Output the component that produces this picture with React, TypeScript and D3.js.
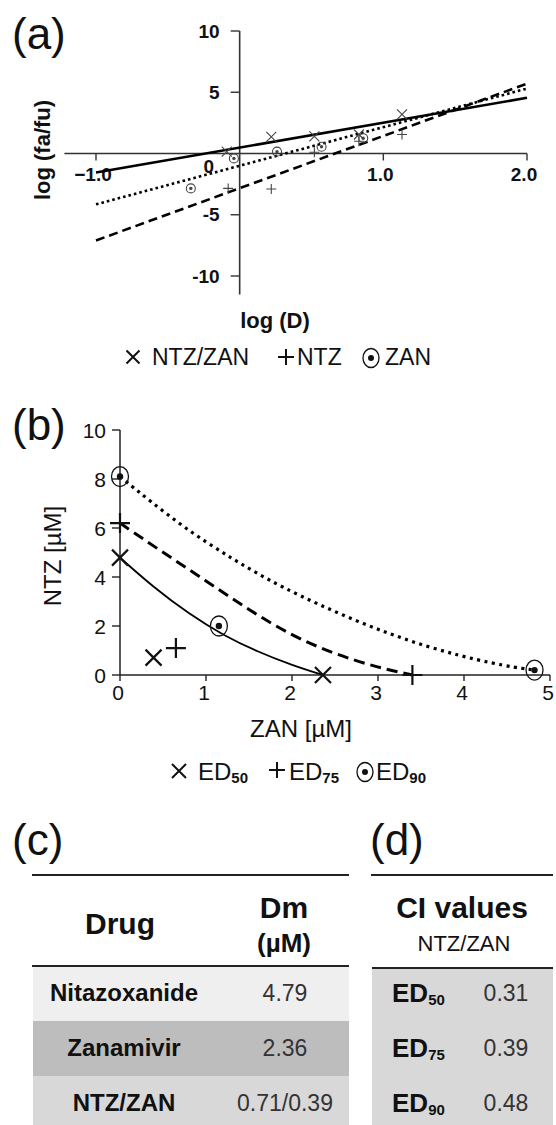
import React from "react";
import * as d3 from "d3";

const FONT = "'Liberation Sans', Arial, Helvetica, sans-serif";

// (a) median-effect plot: log(D) vs log(fa/fu)
const xTicksA = [-1, 1, 2];
const yTicksA = [10, 5, -5, -10];
const comboA = [[-0.09, 0.15], [0.22, 1.35], [0.52, 1.4], [0.83, 1.55], [1.13, 3.2]];
const ntzA = [[-0.08, -2.85], [0.22, -2.9], [0.52, 0.1], [0.83, 1.0], [1.13, 1.55]];
const zanA = [[-0.34, -2.85], [-0.04, -0.4], [0.26, 0.15], [0.57, 0.55], [0.86, 1.25]];
const comboFit = [[-1, -1.55], [2, 4.55]];
const ntzFit = [[-1, -7.1], [2, 5.7]];
const zanFit = [[-1, -4.15], [2, 5.3]];

// (b) isobologram: ZAN vs NTZ (uM)
const xTicksB = [0, 1, 2, 3, 4, 5];
const yTicksB = [0, 2, 4, 6, 8, 10];
const ed50Curve = [[0, 4.79], [0.4, 3.55], [0.8, 2.5], [1.2, 1.62], [1.6, 0.95], [2.0, 0.4], [2.36, 0]];
const ed75Curve = [[0, 6.2], [0.5, 5.0], [1.0, 3.85], [1.5, 2.65], [2.0, 1.6], [2.5, 0.85], [3.0, 0.3], [3.4, 0]];
const ed90Curve = [[0, 8.1], [0.7, 6.1], [1.3, 4.75], [1.86, 3.6], [2.73, 2.2], [3.55, 1.14], [4.37, 0.42], [4.82, 0.2]];
const ed50Pts = [[0, 4.79], [2.36, 0], [0.39, 0.71]];
const ed75Pts = [[0, 6.2], [3.4, 0], [0.65, 1.1]];
const ed90Pts = [[0, 8.1], [4.82, 0.2], [1.15, 2.0]];

// (c) and (d) tables
const drugs = ["Nitazoxanide", "Zanamivir", "NTZ/ZAN"];
const dmValues = ["4.79", "2.36", "0.71/0.39"];
const ciLevels = ["50", "75", "90"];
const ciValues = ["0.31", "0.39", "0.48"];

const cross = (x: number, y: number, s: number) =>
  `M${x - s},${y - s}L${x + s},${y + s}M${x - s},${y + s}L${x + s},${y - s}`;
const plus = (x: number, y: number, s: number) =>
  `M${x - s},${y}L${x + s},${y}M${x},${y - s}L${x},${y + s}`;

function ODot({ x, y, rx, ry, r, sw, color }: any) {
  return (
    <g>
      <ellipse cx={x} cy={y} rx={rx} ry={ry} fill="none" stroke={color} strokeWidth={sw} />
      <circle cx={x} cy={y} r={r} fill={color} />
    </g>
  );
}

export default function App() {
  // scales
  const xA = d3.scaleLinear().domain([-1, 2]).range([96, 527]);
  const yA = d3.scaleLinear().domain([-10, 10]).range([276, 31]);
  const xB = d3.scaleLinear().domain([0, 5]).range([120, 550]);
  const yB = d3.scaleLinear().domain([0, 10]).range([675, 430]);
  const rows = d3.scaleBand<number>().domain([0, 1, 2]).range([966, 1131]);

  const lineA = d3.line<number[]>().x(d => xA(d[0])).y(d => yA(d[1]));
  const lineB = d3.line<number[]>().x(d => xB(d[0])).y(d => yB(d[1])).curve(d3.curveBasis);
  const fmt = d3.format(".1f");

  const rowFill = ["#efefef", "#bdbdbd", "#d8d8d8"];
  const ink = "#111";

  return (
    <svg width={556} height={1125} style={{ position: "absolute", left: 0, top: 0, background: "#fff" }}
      fontFamily={FONT}>
      {/* ---------- (a) ---------- */}
      <text x={12} y={49} fontSize={44} fill={ink}>(a)</text>

      {/* axes */}
      <line x1={xA(-1.22)} x2={xA(2)} y1={yA(0)} y2={yA(0)} stroke="#333" strokeWidth={1.6} />
      <line x1={xA(0)} x2={xA(0)} y1={yA(10)} y2={yA(-11.5)} stroke="#333" strokeWidth={1.6} />
      {yTicksA.map(t => (
        <g key={"ya" + t}>
          <line x1={xA(0) - 9} x2={xA(0)} y1={yA(t)} y2={yA(t)} stroke="#333" strokeWidth={1.4} />
          <text x={xA(0) - 20} y={yA(t)} textAnchor="end" dominantBaseline="central"
            fontSize={19} fontWeight="bold" fill={ink}>{t}</text>
        </g>
      ))}
      {xTicksA.map(t => (
        <g key={"xa" + t}>
          <line x1={xA(t)} x2={xA(t)} y1={yA(0)} y2={yA(0) + 7} stroke="#333" strokeWidth={1.4} />
          <text x={xA(t) - 3} y={yA(0) + 21} textAnchor="middle" dominantBaseline="central"
            fontSize={19} fontWeight="bold" fill={ink}>{fmt(t)}</text>
        </g>
      ))}
      <text x={xA(0) - 31} y={yA(0) + 13} textAnchor="middle" dominantBaseline="central"
        fontSize={19} fontWeight="bold" fill={ink}>0</text>

      <text transform="translate(42,150) rotate(-90)" textAnchor="middle" dominantBaseline="central"
        fontSize={22} fontWeight="bold" fill={ink}>log (fa/fu)</text>
      <text x={275} y={320} textAnchor="middle" dominantBaseline="central"
        fontSize={22} fontWeight="bold" fill={ink}>log (D)</text>

      {/* fitted lines */}
      <path d={lineA(comboFit) || ""} fill="none" stroke="#000" strokeWidth={2.6} />
      <path d={lineA(ntzFit) || ""} fill="none" stroke="#000" strokeWidth={2.6} strokeDasharray="9,5" />
      <path d={lineA(zanFit) || ""} fill="none" stroke="#000" strokeWidth={2.6} strokeDasharray="2.6,3" />

      {/* points */}
      {comboA.map((d, i) => (
        <path key={"ca" + i} d={cross(xA(d[0]), yA(d[1]), 5)} stroke="#444" strokeWidth={1.1} fill="none" />
      ))}
      {ntzA.map((d, i) => (
        <path key={"na" + i} d={plus(xA(d[0]), yA(d[1]), 5)} stroke="#444" strokeWidth={1.1} fill="none" />
      ))}
      {zanA.map((d, i) => (
        <ODot key={"za" + i} x={xA(d[0])} y={yA(d[1])} rx={4.5} ry={4.5} r={1.7} sw={1.1} color="#444" />
      ))}

      {/* legend (a) */}
      <path d={cross(133, 357, 6.5)} stroke={ink} strokeWidth={2} fill="none" />
      <text x={152} y={357} dominantBaseline="central" fontSize={23} fill={ink}>NTZ/ZAN</text>
      <path d={plus(286, 357, 8)} stroke={ink} strokeWidth={2} fill="none" />
      <text x={297} y={357} dominantBaseline="central" fontSize={23} fill={ink}>NTZ</text>
      <ODot x={371} y={358} rx={8} ry={9.5} r={3} sw={1.3} color={ink} />
      <text x={385} y={357} dominantBaseline="central" fontSize={23} fill={ink}>ZAN</text>

      {/* ---------- (b) ---------- */}
      <text x={12} y={440} fontSize={44} fill={ink}>(b)</text>

      <line x1={xB(0)} x2={xB(5)} y1={yB(0)} y2={yB(0)} stroke="#222" strokeWidth={1.5} />
      <line x1={xB(0)} x2={xB(0)} y1={yB(10)} y2={yB(0)} stroke="#222" strokeWidth={1.5} />
      {yTicksB.map(t => (
        <g key={"yb" + t}>
          <line x1={xB(0) - 8} x2={xB(0)} y1={yB(t)} y2={yB(t)} stroke="#222" strokeWidth={1.4} />
          <text x={xB(0) - 14} y={yB(t)} textAnchor="end" dominantBaseline="central"
            fontSize={21} fill={ink}>{t}</text>
        </g>
      ))}
      {xTicksB.map(t => (
        <g key={"xb" + t}>
          <line x1={xB(t)} x2={xB(t)} y1={yB(0)} y2={yB(0) + 6} stroke="#222" strokeWidth={1.4} />
          <text x={xB(t) - 2} y={yB(0) + 17} textAnchor="middle" dominantBaseline="central"
            fontSize={21} fill={ink}>{t}</text>
        </g>
      ))}
      <text transform="translate(52,556) rotate(-90)" textAnchor="middle" dominantBaseline="central"
        fontSize={24} fill={ink}>NTZ [µM]</text>
      <text x={301} y={728} textAnchor="middle" dominantBaseline="central"
        fontSize={24} fill={ink}>ZAN [µM]</text>

      <path d={lineB(ed50Curve) || ""} fill="none" stroke="#000" strokeWidth={1.8} />
      <path d={lineB(ed75Curve) || ""} fill="none" stroke="#000" strokeWidth={3} strokeDasharray="11,6" />
      <path d={lineB(ed90Curve) || ""} fill="none" stroke="#000" strokeWidth={3.2} strokeDasharray="3,4.5" />

      {ed50Pts.map((d, i) => (
        <path key={"e50" + i} d={cross(xB(d[0]), yB(d[1]), 8)} stroke={ink} strokeWidth={2.2} fill="none" />
      ))}
      {ed75Pts.map((d, i) => (
        <path key={"e75" + i} d={plus(xB(d[0]), yB(d[1]), 10)} stroke={ink} strokeWidth={2.2} fill="none" />
      ))}
      {ed90Pts.map((d, i) => (
        <ODot key={"e90" + i} x={xB(d[0])} y={yB(d[1])} rx={8.5} ry={10} r={3.2} sw={1.3} color={ink} />
      ))}

      {/* legend (b) */}
      <path d={cross(179, 771, 7)} stroke={ink} strokeWidth={2} fill="none" />
      <text x={198} y={771} dominantBaseline="central" fontSize={24} fill={ink}>
        ED<tspan fontSize={15} fontWeight="bold" dy={6}>50</tspan>
      </text>
      <path d={plus(277, 770, 8)} stroke={ink} strokeWidth={2} fill="none" />
      <text x={289} y={771} dominantBaseline="central" fontSize={24} fill={ink}>
        ED<tspan fontSize={15} fontWeight="bold" dy={6}>75</tspan>
      </text>
      <ODot x={365} y={772} rx={8} ry={9.5} r={3} sw={1.3} color={ink} />
      <text x={376} y={771} dominantBaseline="central" fontSize={24} fill={ink}>
        ED<tspan fontSize={15} fontWeight="bold" dy={6}>90</tspan>
      </text>

      {/* ---------- (c) ---------- */}
      <text x={12} y={855} fontSize={44} fill={ink}>(c)</text>
      <line x1={32} x2={349} y1={875} y2={875} stroke="#222" strokeWidth={2} />
      <text x={120} y={923} textAnchor="middle" dominantBaseline="central" fontSize={30} fontWeight="bold" fill={ink}>Drug</text>
      <text x={284} y={907} textAnchor="middle" dominantBaseline="central" fontSize={30} fontWeight="bold" fill={ink}>Dm</text>
      <text x={284} y={943} textAnchor="middle" dominantBaseline="central" fontSize={26} fontWeight="bold" fill={ink}>(µM)</text>
      {drugs.map((d, i) => (
        <g key={"dr" + i}>
          <rect x={33} y={rows(i)} width={316} height={rows.bandwidth()} fill={rowFill[i]} />
          <text x={124} y={(rows(i) || 0) + rows.bandwidth() / 2 - 1} textAnchor="middle" dominantBaseline="central"
            fontSize={24} fontWeight="bold" fill={ink}>{d}</text>
          <text x={285} y={(rows(i) || 0) + rows.bandwidth() / 2 - 1} textAnchor="middle" dominantBaseline="central"
            fontSize={23} fill="#333">{dmValues[i]}</text>
        </g>
      ))}
      <line x1={32} x2={349} y1={966} y2={966} stroke="#222" strokeWidth={2} />

      {/* ---------- (d) ---------- */}
      <text x={370} y={855} fontSize={44} fill={ink}>(d)</text>
      <line x1={371} x2={553} y1={875} y2={875} stroke="#222" strokeWidth={2} />
      <text x={462} y={907} textAnchor="middle" dominantBaseline="central" fontSize={30} fontWeight="bold" fill={ink}>CI values</text>
      <text x={464} y={943} textAnchor="middle" dominantBaseline="central" fontSize={22} fill={ink}>NTZ/ZAN</text>
      <rect x={372} y={967} width={181} height={160} fill="#d8d8d8" />
      {ciLevels.map((lv, i) => (
        <g key={"ci" + i}>
          <text x={392} y={(rows(i) || 0) + rows.bandwidth() / 2 - 1} dominantBaseline="central"
            fontSize={26} fontWeight="bold" fill={ink}>
            ED<tspan fontSize={15} dy={6}>{lv}</tspan>
          </text>
          <text x={506} y={(rows(i) || 0) + rows.bandwidth() / 2 - 1} textAnchor="middle" dominantBaseline="central"
            fontSize={23} fill="#333">{ciValues[i]}</text>
        </g>
      ))}
      <line x1={372} x2={553} y1={968} y2={968} stroke="#222" strokeWidth={2} />
    </svg>
  );
}
